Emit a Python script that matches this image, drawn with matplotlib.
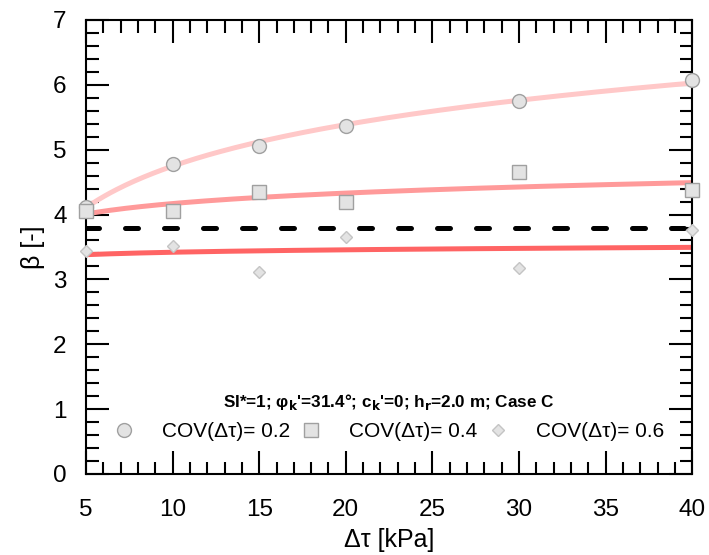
import numpy as np
import matplotlib
matplotlib.use("Agg")
import matplotlib.pyplot as plt
from matplotlib.ticker import MultipleLocator

# data
load = [5, 10, 15, 20, 30, 40]  # Δτ [kPa]
beta_cov02 = [4.12, 4.78, 5.06, 5.37, 5.75, 6.07]
beta_cov04 = [4.06, 4.05, 4.35, 4.20, 4.65, 4.38]
beta_cov06 = [3.44, 3.52, 3.12, 3.66, 3.17, 3.76]
beta_target = 3.8

labels = ["COV(Δτ)= 0.2", "COV(Δτ)= 0.4", "COV(Δτ)= 0.6"]
markers = ["o", "s", "D"]
marker_sizes = [10, 10, 6]
edge_colors = ["#a0a0a0", "#a0a0a0", "#c4c4c4"]
line_colors = ["#ffc8c8", "#ff9a9a", "#ff6464"]

plt.rcParams["font.family"] = ["Liberation Sans", "DejaVu Sans"]
plt.rcParams["mathtext.fontset"] = "custom"
plt.rcParams["mathtext.rm"] = "Liberation Sans Narrow:bold"
plt.rcParams["mathtext.default"] = "rm"

fig = plt.figure(figsize=(7.09, 5.55), dpi=100)
ax = fig.add_axes([0.1213, 0.146, 0.855, 0.818])

x = np.array(load, dtype=float)
xs = np.linspace(5, 40, 200)
series = [beta_cov02, beta_cov04, beta_cov06]

# logarithmic trend lines through each series
for ys, col in zip(series, line_colors):
    k, c = np.polyfit(np.log(x), np.array(ys), 1)
    ax.plot(xs, k * np.log(xs) + c, color=col, lw=3.6, solid_capstyle="butt", zorder=2)

ax.axhline(beta_target, color="black", lw=3.6, dashes=(2.6, 5.2),
           dash_capstyle="round", zorder=3)

handles = []
for ys, m, ms, ec, lab in zip(series, markers, marker_sizes, edge_colors, labels):
    h, = ax.plot(load, ys, linestyle="none", marker=m, ms=ms, mfc="#e3e3e3",
                 mec=ec, mew=1.0, clip_on=False, zorder=5, label=lab)
    handles.append(h)

ax.set_xlim(5, 40)
ax.set_ylim(0, 7)
ax.xaxis.set_major_locator(MultipleLocator(5))
ax.xaxis.set_minor_locator(MultipleLocator(1))
ax.yaxis.set_major_locator(MultipleLocator(1))
ax.yaxis.set_minor_locator(MultipleLocator(0.2))
ax.tick_params(which="both", direction="in", top=True, right=True, width=1.5, colors="black")
ax.tick_params(which="major", length=16.5, labelsize=17.5)
ax.tick_params(which="minor", length=9)
ax.tick_params(axis="x", pad=18)
ax.tick_params(axis="y", pad=14)
for sp in ax.spines.values():
    sp.set_linewidth(1.5)

ax.set_xlabel("Δτ [kPa]", fontsize=18, labelpad=5)
ax.set_ylabel("β [-]", fontsize=18, labelpad=6)

title = "SI*=1; φ$_k$'=31.4°; c$_k$'=0; h$_r$=2.0 m; Case C"
leg = ax.legend(handles=handles, loc="lower center", bbox_to_anchor=(0.5, 0.05),
                ncol=3, frameon=False, fontsize=15, borderpad=0,
                handlelength=1.0, handletextpad=1.33, columnspacing=0.5,
                labelspacing=0.45, title=title,
                title_fontproperties={"family": ["Liberation Sans Narrow", "Liberation Sans"],
                                      "weight": "bold", "size": 12.3})

fig.savefig("out.png", dpi=100)
